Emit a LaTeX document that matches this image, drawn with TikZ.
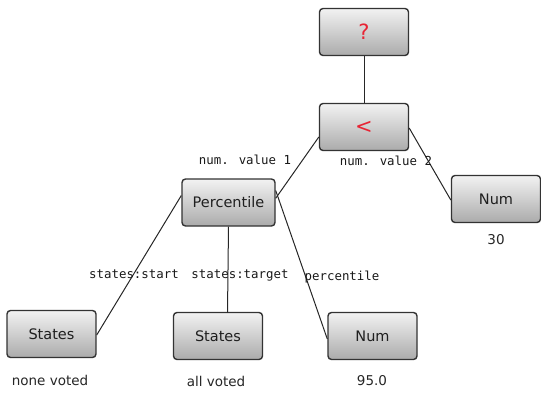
\documentclass[tikz,border=0pt]{standalone}
\usepackage{fontspec}
\setmainfont{DejaVu Sans}
\newfontfamily\monofont{DejaVu Sans Mono}
\begin{document}
\begin{tikzpicture}[x=1pt,y=-1pt,
  box/.style={draw=black!80, line width=1.4pt, rounded corners=3.5pt,
    top color=black!5, bottom color=black!33, minimum width=89pt,
    minimum height=47pt, inner sep=0pt, font=\fontsize{14.5}{16}\selectfont,
    text=black!88},
  opbox/.style={box, text={rgb,255:red,232;green,36;blue,52},
    font=\fontsize{21}{22}\selectfont},
  val/.style={font=\fontsize{13.5}{15}\selectfont, text=black!85, inner sep=0pt},
  elabel/.style={font=\monofont\fontsize{12.4}{14}\selectfont, text=black!90, inner sep=0pt},
  conn/.style={draw=black!85, line width=1pt}]
\useasboundingbox (0,0) rectangle (541,394);

% operator nodes
\node[opbox] (root) at (364,32) {?};
\node[opbox] (lt) at (364,127) {<};

% function and value nodes
\node[box, minimum width=93pt] (pct) at (228.5,202.5) {Percentile};
\node[box] (num30) at (496,199) {Num};
\node[box] (st1) at (51.5,334) {States};
\node[box] (st2) at (218,336) {States};
\node[box] (num95) at (372.5,336) {Num};

% values under the leaves
\node[val] (v30) at (496,239.5) {30};
\node[val] (vnone) at (50,380) {none voted};
\node[val] (vall) at (216,381) {all voted};
\node[val] (v95) at (372,381) {95.0};

% connectors
\draw[conn] (root.south) -- (lt.north);
\draw[conn] ([yshift=-10pt]lt.west) -- ([yshift=-20pt]pct.north east);
\draw[conn] ([yshift=-1pt]lt.east) -- ([yshift=-1pt]num30.west);
\draw[conn] ([yshift=7pt]pct.west) -- ([yshift=-1pt]st1.east);
\coordinate (st2top) at (227.5,312.5);
\draw[conn] (pct.south) -- (st2top);
\draw[conn] ([yshift=12pt]pct.east) -- ([yshift=-3pt]num95.west);

% edge labels
\node[elabel] (l1) at (245,160) {num. value 1};
\node[elabel] (l2) at (386,161) {num. value 2};
\node[elabel] (l3) at (134,274) {states:start};
\node[elabel] (l4) at (240,275) {states:target};
\node[elabel] (l5) at (342,277) {percentile};
\end{tikzpicture}
\end{document}
